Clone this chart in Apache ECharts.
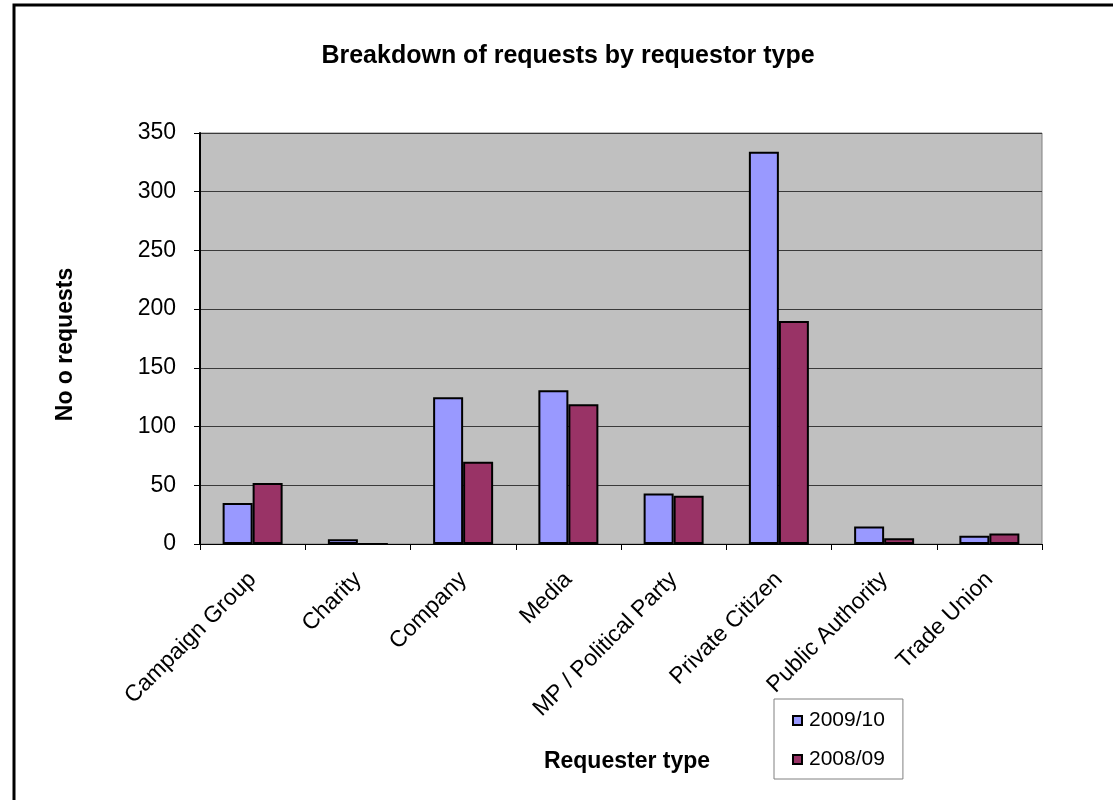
<!DOCTYPE html>
<html>
<head>
<meta charset="utf-8">
<script src="https://cdn.jsdelivr.net/npm/echarts@6/dist/echarts.min.js"></script>
<style>
    html, body { margin: 0; padding: 0; background: #fff; }
    #chart { width: 1113px; height: 800px; }
</style>
</head>
<body>
<div id="chart"></div>
<script>
const categories = ['Campaign Group', 'Charity', 'Company', 'Media', 'MP / Political Party', 'Private Citizen', 'Public Authority', 'Trade Union'];
const series2009 = [35, 4, 125, 131, 43, 334, 15, 7];
const series2008 = [52, 0, 70, 119, 41, 190, 5, 9];
const seriesNames = ['2009/10', '2008/09'];
const yTicks = { min: 0, max: 350, interval: 50 };

const font = 'Arial, "Liberation Sans", sans-serif';
const chart = echarts.init(document.getElementById('chart'));

chart.setOption({
    animation: false,
    textStyle: { fontFamily: font },
    title: {
        text: 'Breakdown of requests by requestor type',
        left: 563,
        textAlign: 'center',
        top: 39,
        textStyle: { fontSize: 25, fontWeight: 'bold', color: '#000', fontFamily: font }
    },
    graphic: [{
        type: 'rect',
        shape: { x: 14, y: 5, width: 1200, height: 900 },
        style: { fill: 'none', stroke: '#000', lineWidth: 3 },
        silent: true
    }],
    grid: {
        left: 200,
        right: 71,
        top: 133,
        bottom: 256,
        show: true,
        backgroundColor: '#c0c0c0',
        borderColor: '#808080',
        borderWidth: 1
    },
    legend: {
        orient: 'vertical',
        left: 774,
        top: 699,
        backgroundColor: '#fff',
        borderColor: '#808080',
        borderWidth: 1,
        padding: [11, 18, 9, 18],
        itemGap: 18,
        itemWidth: 9,
        itemHeight: 9,
        icon: 'rect',
        textStyle: { fontSize: 21, color: '#000', fontFamily: font, padding: [0, 0, 0, 2] },
        itemStyle: { borderColor: '#000', borderWidth: 2 },
        data: seriesNames
    },
    xAxis: {
        type: 'category',
        data: categories,
        name: 'Requester type',
        nameLocation: 'middle',
        nameGap: 206,
        nameTextStyle: { fontSize: 23, fontWeight: 'bold', color: '#000', fontFamily: font, padding: [0, 0, 0, 12] },
        axisLine: { lineStyle: { color: '#000', width: 1 } },
        axisTick: { show: true, length: 6, lineStyle: { color: '#000' } },
        axisLabel: { rotate: 45, fontSize: 23, color: '#000', margin: 32, interval: 0, fontFamily: font }
    },
    yAxis: {
        type: 'value',
        min: yTicks.min,
        max: yTicks.max,
        interval: yTicks.interval,
        name: 'No o requests',
        nameLocation: 'middle',
        nameGap: 123,
        nameTextStyle: { fontSize: 23, fontWeight: 'bold', color: '#000', fontFamily: font, padding: [0, 12, 0, 0] },
        axisLine: { show: true, lineStyle: { color: '#000', width: 2 } },
        axisTick: { show: true, length: 6, lineStyle: { color: '#000' } },
        axisLabel: { fontSize: 23, color: '#000', margin: 24, fontFamily: font },
        splitLine: { show: true, lineStyle: { color: '#3a3a3a', width: 1 } }
    },
    series: [
        {
            name: seriesNames[0],
            type: 'bar',
            data: series2009,
            barGap: '0%',
            barCategoryGap: '43%',
            itemStyle: { color: '#9999ff', borderColor: '#000', borderWidth: 2 }
        },
        {
            name: seriesNames[1],
            type: 'bar',
            data: series2008,
            itemStyle: { color: '#993366', borderColor: '#000', borderWidth: 2 }
        }
    ]
});
</script>
</body>
</html>
